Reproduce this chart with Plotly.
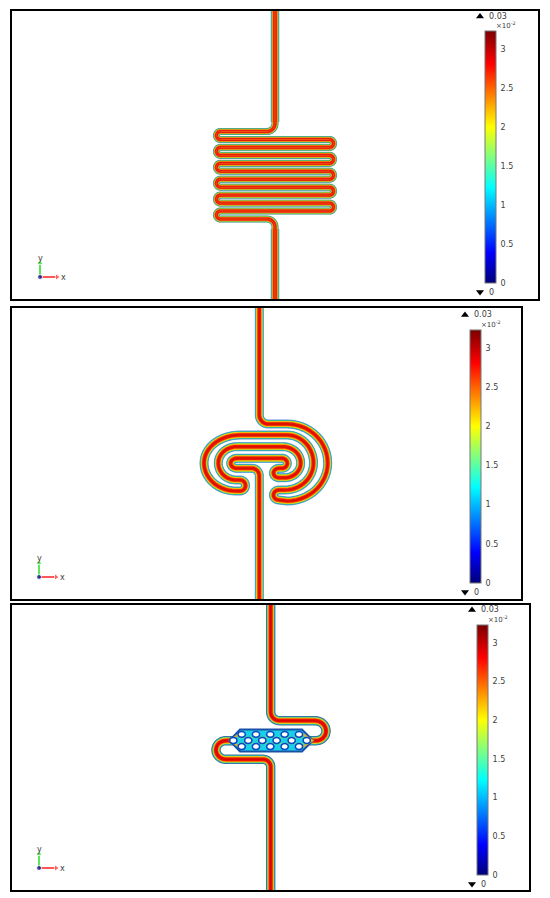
import numpy as np
import plotly.graph_objects as go

W, H = 550, 898
# colour scale and tick labels
scale_stops = [0, 0.12, 0.38, 0.62, 0.87, 1]
scale_cols = ['#00007a', '#0000ff', '#00ffff', '#ffff00', '#ff0000', '#7a0000']
tick_vals = [0, 0.5, 1, 1.5, 2, 2.5, 3]
tick_text = ['0', '0.5', '1', '1.5', '2', '2.5', '3']
range_max_label, range_min_label = '0.03', '0'
val_max = 3.23

# panel frames: left, top, right, bottom
frames = [(11, 10, 539, 300), (11, 307, 522, 600), (11, 604, 530, 891)]
# colour bars: left, top, right, bottom
bars = [(485, 31.5, 495.5, 283), (470, 330, 481, 583), (477, 625, 488, 875)]
triads = [(40, 277), (39, 577), (39, 868)]

rows_p1 = [131.5, 139.5, 147.4, 155.3, 163.3, 171.2, 179.2, 187.2, 195.1, 203.1, 211, 219]
stems_p1 = [[(275, 10, 'L'), (275, 122, 'L')], [(275, 229, 'L'), (275, 300, 'L')]]
# centre lines: (x, y, how): L straight, H quarter ellipse leaving horizontally, V leaving vertically
path_p2 = [(259.3, 307, 'L'), (259.3, 415, 'L'), (268, 424, 'V'), (287, 424, 'L'), (327.7, 463, 'H'),
           (287, 501, 'V'), (279, 500, 'L'), (273.5, 495, 'H'), (279, 490, 'V'), (285, 490, 'L'),
           (313.5, 463, 'H'), (287, 435, 'V'), (240, 435, 'L'), (204, 463, 'H'), (236, 491, 'V'),
           (240, 491, 'L'), (245.5, 485.5, 'H'), (240, 480, 'V'), (236, 480, 'L'), (218.3, 463, 'H'),
           (236.7, 446.7, 'V'), (283, 446.7, 'L'), (300.7, 463, 'H'), (285, 477.7, 'V'), (279, 477.7, 'L'),
           (273.5, 473, 'H'), (279, 468.3, 'V'), (282, 468.3, 'L'), (287.3, 463.3, 'H'), (282, 458.3, 'V'),
           (236.7, 458.3, 'L'), (230.7, 463.3, 'H'), (236.7, 468.3, 'V'), (252, 468.3, 'L'), (259.3, 476, 'H'),
           (259.3, 600, 'L')]
path_p3 = [(270.7, 604, 'L'), (270.7, 712, 'L'), (279.7, 720.7, 'V'), (315, 720.7, 'L'), (326, 731, 'H'),
           (316, 740.7, 'V'), (308, 740.7, 'L')]
path_p3b = [(234, 740.7, 'L'), (226, 740.7, 'L'), (216, 750, 'H'), (226, 759.3, 'V'), (263, 759.3, 'L'),
            (270.7, 767, 'H'), (270.7, 891, 'L')]

# nested bands, outside to inside
band_w_p1 = [7.2, 6.4, 5.6, 4.7, 3.6, 2.4, 1]
band_c_p1 = ['#6f9fa8', '#30a890', '#80c850', '#f0b010', '#f04010', '#e81008', '#f05010']
band_w_stem = [8.6, 7.6, 6.6, 5.6, 4.4, 3, 1.2]
band_w_p2 = [9, 8.2, 7.2, 6.2, 5, 3.6, 1.4]
band_c_p2 = ['#6f90e0', '#20a8d0', '#50c070', '#e8e020', '#f89000', '#f01800', '#d81000']
band_w_p3 = [9.4, 8.4, 7.4, 6.4, 5.2, 3.8, 1.4]
band_c_p3 = ['#506890', '#1888c0', '#38c098', '#c8d830', '#f89800', '#f01000', '#d80800']

mesh_x = [229.5, 240, 302, 313, 302, 240, 229.5]
mesh_y = [740.5, 729.5, 729.5, 740.5, 751.5, 751.5, 740.5]
hole_x_outer = [241.7, 256, 270.3, 284.7, 299]
hole_x_mid = [233.3, 248.3, 262.3, 276.7, 291.7, 306.7]
hole_y = [734.3, 740.5, 746.5]
flow_y = [737.4, 743.5]
tip_arm_x = [[241, 230, 241], [301, 312.5, 301]]
tip_arm_y = [[733, 740.5, 748], [733, 740.5, 748]]


def trace_path(pts):
    xs, ys = [pts[0][0]], [pts[0][1]]
    for (x0, y0, _), (x1, y1, how) in zip(pts[:-1], pts[1:]):
        if how == 'L':
            xs.append(x1); ys.append(y1)
            continue
        t = np.linspace(0, np.pi / 2, 14)[1:]
        if how == 'H':
            xs.extend(x0 + (x1 - x0) * np.sin(t)); ys.extend(y1 + (y0 - y1) * np.cos(t))
        else:
            xs.extend(x1 + (x0 - x1) * np.cos(t)); ys.extend(y0 + (y1 - y0) * np.sin(t))
    return xs, ys


def path_panel1():
    pts = [(275, 10, 'L'), (275, 123.5, 'L'), (267, rows_p1[0], 'V')]
    for i in range(0, len(rows_p1), 2):
        a, b = rows_p1[i], rows_p1[i + 1]
        pts += [(220.5, a, 'L'), (216.5, (a + b) / 2, 'H'), (220.5, b, 'V')]
        if i + 2 < len(rows_p1):
            c = rows_p1[i + 2]
            pts += [(329.5, b, 'L'), (333.5, (b + c) / 2, 'H'), (329.5, c, 'V')]
    pts += [(267, rows_p1[-1], 'L'), (275, rows_p1[-1] + 8, 'H'), (275, 300, 'L')]
    return pts


fig = go.Figure()


def add_channel(pts, widths, cols):
    x, y = trace_path(pts)
    for w, c in zip(widths, cols):
        fig.add_trace(go.Scatter(x=x, y=y, mode='lines', line=dict(width=w, color=c, simplify=False),
                                 hoverinfo='skip', showlegend=False))


add_channel(path_panel1(), band_w_p1, band_c_p1)
for stem in stems_p1:
    add_channel(stem, band_w_stem, band_c_p1)
add_channel(path_p2, band_w_p2, band_c_p2)
add_channel(path_p3, band_w_p3, band_c_p3)
add_channel(path_p3b, band_w_p3, band_c_p3)

# porous section of panel 3
fig.add_trace(go.Scatter(x=mesh_x, y=mesh_y, mode='lines', fill='toself', fillcolor='#18d0e8',
                         line=dict(color='#1c50a8', width=2), hoverinfo='skip', showlegend=False))
for yy in flow_y:
    fig.add_trace(go.Scatter(x=[238, 305], y=[yy, yy], mode='lines', line=dict(color='#60e090', width=1.5),
                             hoverinfo='skip', showlegend=False))
for ax, ay in zip(tip_arm_x, tip_arm_y):
    fig.add_trace(go.Scatter(x=ax, y=ay, mode='lines', line=dict(color='#e8b020', width=2),
                             hoverinfo='skip', showlegend=False))
shapes = []
for row, yy in zip([hole_x_outer, hole_x_mid, hole_x_outer], hole_y):
    for xx in row:
        shapes.append(dict(type='circle', xref='x', yref='y', x0=xx - 3.6, x1=xx + 3.6, y0=yy - 2.9, y1=yy + 2.9,
                           fillcolor='white', line=dict(color='#0a48c0', width=1.5), layer='above'))
for l, t, r, b in frames:
    shapes.append(dict(type='rect', xref='x', yref='y', x0=l, x1=r, y0=t, y1=b,
                       line=dict(color='black', width=2), layer='above'))

annots = []
GREY = '#404040'
TXT = dict(family='DejaVu Sans', size=8, color=GREY)
for (l, t, r, b), (ox, oy) in zip(bars, triads):
    # colour bar drawn by the library from an off-canvas marker pair
    fig.add_trace(go.Scatter(
        x=[-50, -50], y=[-50, -50], mode='markers', showlegend=False, hoverinfo='skip',
        marker=dict(color=[0, val_max], cmin=0, cmax=val_max, showscale=True,
                    colorscale=[[s, c] for s, c in zip(scale_stops, scale_cols)],
                    colorbar=dict(x=l / W, xanchor='left', xpad=0, thickness=r - l, thicknessmode='pixels',
                                  y=1 - b / H, yanchor='bottom', ypad=0, len=b - t, lenmode='pixels',
                                  tickvals=tick_vals, ticktext=tick_text, ticks='outside', ticklen=3,
                                  tickcolor='rgba(255,255,255,0)', tickfont=TXT,
                                  outlinecolor='#777777', outlinewidth=1, borderwidth=0))))
    # range markers
    fig.add_trace(go.Scatter(x=[l - 5, l - 5], y=[t - 15, b + 9], mode='markers', showlegend=False, hoverinfo='skip',
                             marker=dict(symbol=['triangle-up', 'triangle-down'], size=7, color='black')))
    annots.append(dict(x=l + 2, y=t - 15.5, text=range_max_label, showarrow=False, xanchor='left', font=TXT))
    annots.append(dict(x=l + 2, y=b + 9, text=range_min_label, showarrow=False, xanchor='left', font=TXT))
    annots.append(dict(x=l + 9, y=t - 6.5, text='×10<sup>-2</sup>', showarrow=False, xanchor='left',
                       font=dict(family='DejaVu Sans', size=7, color=GREY)))
    # axis triad
    fig.add_trace(go.Scatter(x=[ox, ox + 16], y=[oy, oy], mode='lines', line=dict(color='#ff2020', width=1.5),
                             hoverinfo='skip', showlegend=False))
    fig.add_trace(go.Scatter(x=[ox, ox], y=[oy, oy - 13], mode='lines', line=dict(color='#20e020', width=1.5),
                             hoverinfo='skip', showlegend=False))
    fig.add_trace(go.Scatter(x=[ox + 17, ox, ox], y=[oy, oy - 14, oy], mode='markers', hoverinfo='skip', showlegend=False,
                             marker=dict(symbol=['triangle-right', 'triangle-up', 'circle'], size=[6, 6, 5],
                                         color=['#ff2020', '#20e020', '#000090'])))
    annots.append(dict(x=ox, y=oy - 19, text='y', showarrow=False, font=dict(family='DejaVu Sans', size=8, color=GREY)))
    annots.append(dict(x=ox + 23, y=oy, text='x', showarrow=False, font=dict(family='DejaVu Sans', size=8, color=GREY)))

fig.update_layout(width=W, height=H, margin=dict(l=0, r=0, t=0, b=0), paper_bgcolor='white', plot_bgcolor='white',
                  showlegend=False, shapes=shapes, annotations=annots,
                  xaxis=dict(range=[0, W], visible=False, fixedrange=True),
                  yaxis=dict(range=[H, 0], visible=False, fixedrange=True))
fig.write_html('out.html', config=dict(displayModeBar=False),
               post_script="document.body.style.margin='0';document.body.style.overflow='hidden';")
